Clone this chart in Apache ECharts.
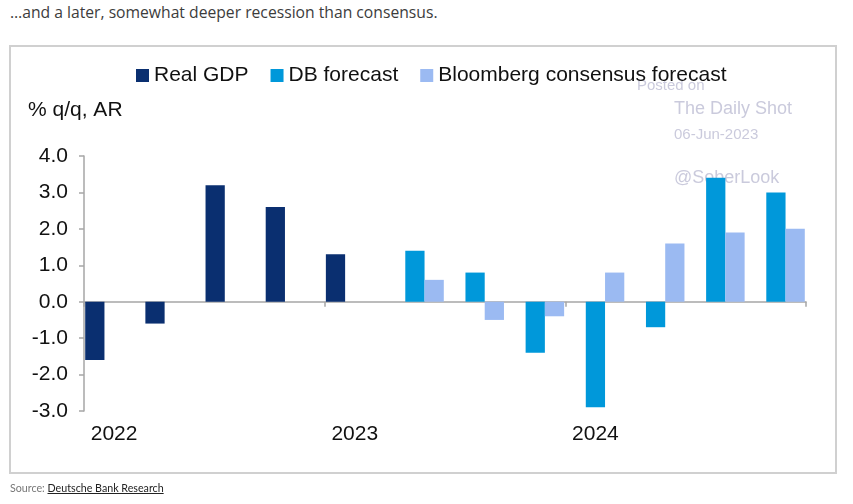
<!DOCTYPE html>
<html>
<head>
<meta charset="utf-8">
<script src="https://cdn.jsdelivr.net/npm/echarts@6/dist/echarts.min.js"></script>
<style>
  html, body { margin: 0; padding: 0; background: #ffffff; width: 853px; height: 504px; overflow: hidden; }
  #header { position: absolute; left: 10px; top: 1px; font-family: "Open Sans", Lato, sans-serif; font-size: 15.7px; color: #3c3c3c; white-space: nowrap; }
  #frame { position: absolute; left: 9px; top: 45px; width: 828px; height: 429px; box-sizing: border-box; border: 2px solid #d0d0d0; }
  #chart { position: absolute; left: 0; top: 0; width: 853px; height: 504px; }
  #source { position: absolute; left: 10px; top: 481px; font-family: Lato, "Open Sans", sans-serif; font-size: 10.7px; color: #777; white-space: nowrap; }
  #source span { color: #222; text-decoration: underline; }
</style>
</head>
<body>
<div id="header">…and a later, somewhat deeper recession than consensus.</div>
<div id="frame"></div>
<div id="chart"></div>
<div id="source">Source: <span>Deutsche Bank Research</span></div>
<script>
// ---- data ----
const quarters = ['2022 Q1','2022 Q2','2022 Q3','2022 Q4','2023 Q1','2023 Q2','2023 Q3','2023 Q4','2024 Q1','2024 Q2','2024 Q3','2024 Q4'];
const yearTickLabels = ['2022','','','','2023','','','','2024','','',''];
const realGDP = [-1.6, -0.6, 3.2, 2.6, 1.3, null, null, null, null, null, null, null];
const dbForecast = [null, null, null, null, null, 1.4, 0.8, -1.4, -2.9, -0.7, 3.4, 3.0];
const bloombergConsensus = [null, null, null, null, null, 0.6, -0.5, -0.4, 0.8, 1.6, 1.9, 2.0];
const seriesNames = ['Real GDP', 'DB forecast', 'Bloomberg consensus forecast'];
const yTicks = { min: -3, max: 4, interval: 1 };

const colors = ['#0a2f70', '#0098da', '#9bbaf2'];
const font = 'Arial, "Liberation Sans", Helvetica, sans-serif';
const axisGray = '#a6a6a6';

const chart = echarts.init(document.getElementById('chart'), null, { renderer: 'canvas' });
const wm = 'rgba(180,180,205,0.7)';
chart.setOption({
  animation: false,
  backgroundColor: 'transparent',
  color: colors,
  grid: { left: 84, right: 47, top: 156, bottom: 93, containLabel: false },
  legend: {
    left: 131, top: 60,
    itemWidth: 13, itemHeight: 13, itemGap: 22,
    icon: 'rect',
    textStyle: { fontFamily: font, fontSize: 21, color: '#111' },
    data: seriesNames
  },
  graphic: [
    { type: 'text', x: 28, y: 110, style: { text: '% q/q, AR', font: '21px ' + font, fill: '#111', textVerticalAlign: 'middle' } },
    { type: 'text', x: 637, y: 86, z: 0, style: { text: 'Posted on', font: '15px ' + font, fill: wm, textVerticalAlign: 'middle' } },
    { type: 'text', x: 674, y: 109, z: 0, style: { text: 'The Daily Shot', font: '18px ' + font, fill: wm, textVerticalAlign: 'middle' } },
    { type: 'text', x: 674, y: 135, z: 0, style: { text: '06-Jun-2023', font: '15px ' + font, fill: wm, textVerticalAlign: 'middle' } },
    { type: 'text', x: 674, y: 178, z: 0, style: { text: '@SoberLook', font: '18px ' + font, fill: wm, textVerticalAlign: 'middle' } }
  ],
  xAxis: [
    {
      type: 'category', data: quarters, position: 'bottom',
      axisLine: { onZero: true, lineStyle: { color: axisGray, width: 1.5 } },
      axisTick: { show: true, interval: 3, length: 5, lineStyle: { color: axisGray, width: 1.5 } },
      axisLabel: { show: false },
      splitLine: { show: false }
    },
    {
      type: 'category', data: yearTickLabels, position: 'bottom',
      axisLine: { show: false }, axisTick: { show: false },
      axisLabel: { show: true, interval: 0, margin: 13, fontFamily: font, fontSize: 21, color: '#111' },
      splitLine: { show: false }
    }
  ],
  yAxis: {
    type: 'value', min: yTicks.min, max: yTicks.max, interval: yTicks.interval,
    axisLine: { show: true, lineStyle: { color: axisGray, width: 1.5 } },
    axisTick: { show: true, length: 5, lineStyle: { color: axisGray, width: 1.5 } },
    axisLabel: { margin: 16, fontFamily: font, fontSize: 21, color: '#111', formatter: v => v.toFixed(1) },
    splitLine: { show: false }
  },
  series: [
    { name: seriesNames[0], type: 'bar', data: realGDP, barGap: '0%', barCategoryGap: '4%', itemStyle: { color: colors[0] } },
    { name: seriesNames[1], type: 'bar', data: dbForecast, barGap: '0%', barCategoryGap: '4%', itemStyle: { color: colors[1] } },
    { name: seriesNames[2], type: 'bar', data: bloombergConsensus, barGap: '0%', barCategoryGap: '4%', itemStyle: { color: colors[2] } }
  ]
});
</script>
</body>
</html>
